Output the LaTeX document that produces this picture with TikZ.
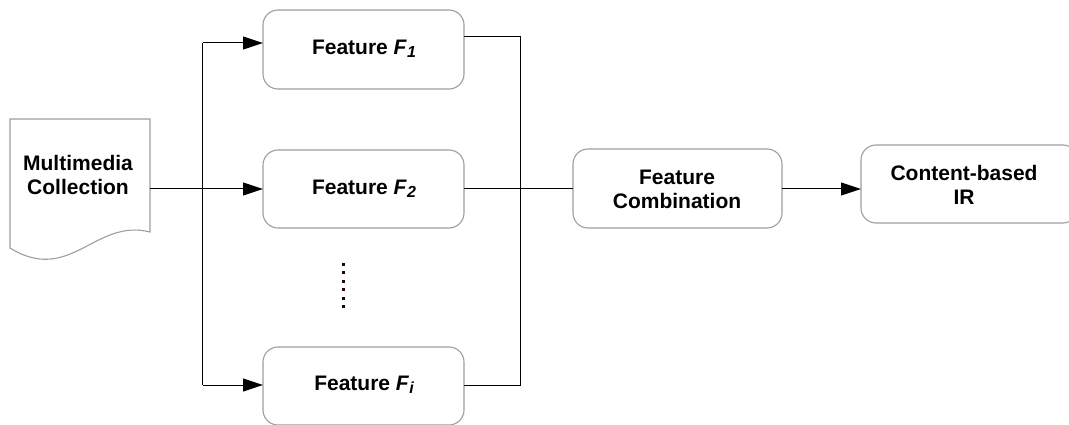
\documentclass[tikz,border=0pt]{standalone}
\usepackage{fontspec}
\setmainfont{Liberation Sans}
\usetikzlibrary{arrows.meta}
\tikzset{
  box/.style={draw=black!38, line width=1.1pt, rounded corners=15pt, fill=white},
  lbl/.style={font=\fontsize{21}{24}\selectfont\bfseries, align=center, inner sep=0pt},
  conn/.style={draw=black, line width=1pt},
  arr/.style={conn, -{Triangle[length=20pt,width=13pt]}},
  dotmark/.style={fill=black!85!red, minimum size=3pt, inner sep=0pt}
}
\newcommand{\feat}[1]{Feature \textit{F\kern0.5pt\raisebox{-0.3ex}{\fontsize{16}{16}\selectfont #1}}}
\begin{document}
\begin{tikzpicture}[x=1pt,y=-1pt]
  \useasboundingbox (0,0) rectangle (1069,425);
  \begin{scope}
  \clip (0,0) rectangle (1069,425);

  % document-shaped source
  \draw[draw=black!38, line width=1.1pt, fill=white]
    (10,119) -- (150,119) -- (150,232)
    .. controls (95,218) and (70,285) .. (10,248) -- cycle;
  \node[lbl] (mm) at (78,175) {Multimedia\\Collection};
  \coordinate (mmout) at (150,189);

  % feature boxes
  \draw[box] (263,10) rectangle (464,89);
  \node[lbl] (f1) at (364,49) {\feat{1}};
  \coordinate (f1in) at (263,43);
  \coordinate (f1out) at (464,37);

  \draw[box] (263,150) rectangle (464,228);
  \node[lbl] (f2) at (364,189) {\feat{2}};
  \coordinate (f2in) at (263,189);
  \coordinate (f2out) at (464,189);

  \draw[box] (263,347) rectangle (464,425);
  \node[lbl] (fi) at (364,385) {\feat{i}};
  \coordinate (fiin) at (263,385);
  \coordinate (fiout) at (464,385);

  % vertical ellipsis
  \foreach \k in {0,...,5}
    \node[dotmark] (d\k) at (343.5,264+8.5*\k) {};

  % combination and retrieval
  \draw[box] (573,149) rectangle (782,228);
  \node[lbl] (fc) at (677,189) {Feature\\Combination};
  \coordinate (fcin) at (573,189);
  \coordinate (fcout) at (782,189);

  \draw[box] (861,145) rectangle (1078,223);
  \node[lbl] (ir) at (964,185) {Content-based\\IR};
  \coordinate (irin) at (861,189);

  % fan-out trunk
  \coordinate (tr1) at (202.5,43);
  \coordinate (tri) at (202.5,385);
  \draw[conn] (mmout) -- (f2in -| tr1);
  \draw[arr] (tr1) |- (f1in);
  \draw[arr] (mmout) -- (f2in);
  \draw[arr] (tri) -- (fiin);
  \draw[conn] (tr1) -- (tri);

  % fan-in trunk
  \coordinate (tc1) at (520.5,37);
  \coordinate (tci) at (520.5,385);
  \draw[conn] (f1out) -- (tc1) -- (tci) -- (fiout);
  \draw[conn] (f2out) -- (fcin);

  \draw[arr] (fcout) -- (irin);
  \end{scope}
\end{tikzpicture}
\end{document}
